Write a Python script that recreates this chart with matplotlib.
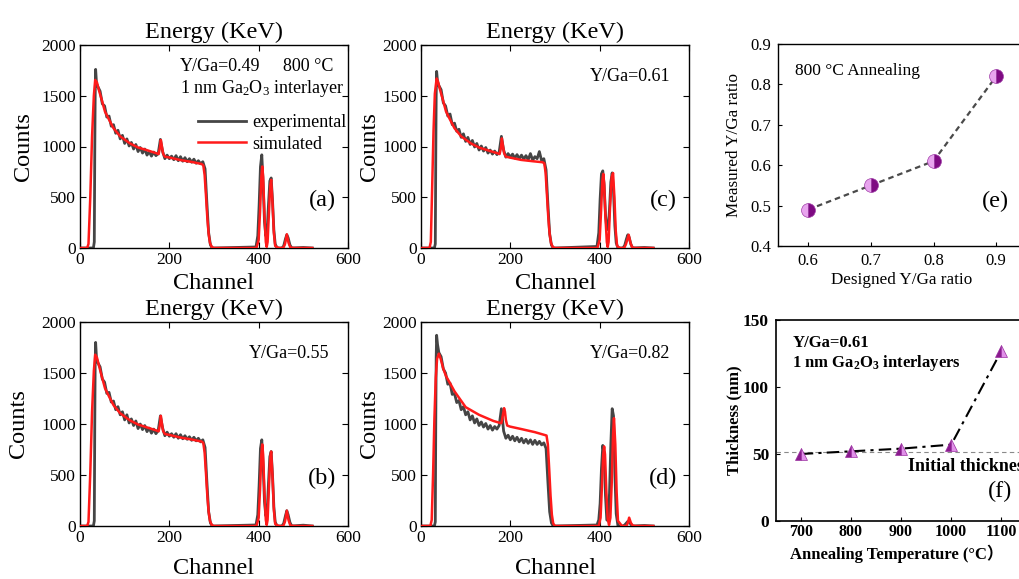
import matplotlib
matplotlib.use("Agg")
import matplotlib.pyplot as plt

plt.rcParams["font.family"] = ["Liberation Serif", "Noto Sans CJK SC"]
plt.rcParams["mathtext.fontset"] = "custom"
plt.rcParams["mathtext.rm"] = "Liberation Serif"
plt.rcParams["mathtext.it"] = "Liberation Serif:italic"
plt.rcParams["mathtext.bf"] = "Liberation Serif:bold"

# ---------------- RBS spectra ----------------
# continuum channels shared by all experimental spectra
CONT_CH = list(range(40, 280, 5))

# experimental edges (rise) and high-energy part (drop + Y/Ga peaks)
EXP_RISE_CH = [0, 30, 32, 33, 34, 35, 37]
EXP_TAIL_CH = [280, 284, 288, 292, 296, 300, 394, 398, 401, 404, 407, 410, 413,
               416, 419, 422, 425, 428, 431, 434, 437, 441, 452, 456, 460, 463,
               466, 470, 474, 500, 520]

# (a) Y/Ga = 0.49
exp_a_rise = [0, 0, 60, 900, 1500, 1760, 1620]
exp_a_cont = [1590, 1545, 1420, 1400, 1290, 1300, 1200, 1215, 1130, 1160, 1075, 1110,
              1030, 1075, 1005, 1040, 975, 1020, 950, 990, 935, 975, 915, 950,
              905, 945, 910, 930, 1070, 950, 880, 915, 880, 905, 870, 910,
              860, 900, 855, 890, 850, 880, 845, 875, 835, 860, 830, 850]
exp_a_tail = [780, 450, 150, 30, 0, 0, 10, 120, 420, 800, 918, 640, 260,
              120, 170, 430, 660, 690, 470, 180, 40, 0, 0, 20, 90, 130,
              100, 30, 0, 5, 0]
sim_a_ch = [0, 16, 19, 23, 27, 31, 34, 38, 42, 48, 56, 65, 75, 90, 112, 130, 149, 170,
            176, 179, 181, 183, 186, 190, 200, 224, 250, 272, 276, 279, 282, 285, 288,
            291, 295, 300, 395, 400, 403, 406, 408, 410, 413, 416, 418, 420, 423, 426,
            428, 431, 434, 437, 445, 455, 459, 463, 467, 471, 480, 520]
sim_a = [0, 0, 40, 500, 1100, 1500, 1656, 1630, 1560, 1470, 1343, 1265, 1180, 1100,
         1030, 990, 965, 935, 925, 990, 1064, 1010, 930, 900, 892, 867, 848, 828, 815,
         720, 520, 300, 140, 50, 10, 0, 0, 80, 350, 700, 803, 700, 320, 60, 10, 60,
         350, 620, 672, 450, 150, 20, 0, 0, 40, 135, 50, 5, 0, 0]

# (b) Y/Ga = 0.55
exp_b_rise = [0, 0, 50, 950, 1600, 1800, 1640]
exp_b_cont = [1600, 1560, 1440, 1410, 1300, 1310, 1215, 1225, 1140, 1170, 1090, 1120,
              1040, 1090, 1010, 1050, 985, 1030, 955, 1000, 945, 985, 925, 960,
              910, 950, 905, 935, 1080, 960, 885, 920, 880, 905, 870, 905,
              860, 895, 855, 885, 850, 875, 840, 870, 835, 860, 825, 845]
exp_b_tail = [770, 440, 140, 30, 0, 0, 10, 110, 400, 760, 845, 600, 240,
              100, 140, 420, 680, 730, 500, 190, 40, 0, 0, 25, 100, 150,
              110, 35, 0, 8, 0]
sim_b_ch = sim_a_ch
sim_b = [0, 0, 40, 520, 1120, 1520, 1680, 1650, 1580, 1480, 1350, 1270, 1185, 1105,
         1035, 995, 968, 938, 928, 995, 1080, 1015, 932, 902, 893, 868, 848, 828, 815,
         720, 520, 300, 140, 50, 10, 0, 0, 80, 350, 700, 800, 700, 320, 60, 10, 60,
         380, 680, 730, 490, 160, 20, 0, 0, 45, 150, 55, 5, 0, 0]

# (c) Y/Ga = 0.61
exp_c_rise = [0, 0, 40, 850, 1500, 1740, 1640]
exp_c_cont = [1600, 1560, 1430, 1400, 1300, 1320, 1215, 1230, 1150, 1170, 1090, 1125,
              1050, 1090, 1020, 1060, 995, 1030, 965, 1005, 955, 990, 935, 965,
              925, 955, 920, 945, 1100, 965, 895, 930, 895, 925, 885, 920,
              880, 915, 875, 910, 870, 930, 865, 900, 880, 950, 860, 880]
exp_c_tail = [770, 440, 140, 30, 0, 0, 15, 150, 480, 730, 760, 620, 330,
              190, 180, 380, 650, 740, 560, 220, 50, 0, 0, 25, 90, 130,
              105, 35, 0, 5, 0]
sim_c_ch = [0, 19, 22, 25, 28, 31, 35, 38, 42, 48, 56, 65, 75, 90, 112, 130, 149, 170,
            176, 179, 181, 183, 186, 190, 200, 224, 250, 272, 276, 279, 282, 285, 288,
            291, 295, 300, 395, 400, 403, 406, 408, 410, 413, 416, 418, 420, 423, 427,
            430, 433, 436, 439, 445, 455, 459, 465, 469, 473, 480, 520]
sim_c = [0, 0, 60, 600, 1150, 1520, 1670, 1640, 1570, 1475, 1345, 1265, 1180, 1100,
         1030, 990, 963, 935, 925, 985, 1080, 1020, 935, 900, 890, 868, 855, 845, 835,
         740, 520, 300, 140, 50, 10, 0, 0, 80, 350, 660, 730, 640, 300, 60, 10, 60,
         380, 700, 738, 500, 170, 20, 0, 0, 40, 130, 50, 5, 0, 0]

# (d) Y/Ga = 0.82
exp_d_rise = [0, 0, 40, 950, 1650, 1870, 1780]
exp_d_cont = [1700, 1660, 1540, 1500, 1390, 1400, 1290, 1300, 1210, 1230, 1140, 1170,
              1090, 1120, 1040, 1080, 1010, 1050, 985, 1020, 970, 1005, 950, 985,
              940, 975, 950, 985, 1150, 930, 860, 890, 845, 880, 835, 870,
              825, 860, 815, 850, 810, 845, 800, 840, 800, 830, 795, 815]
exp_d_tail = [760, 440, 140, 30, 0, 0, 10, 60, 220, 560, 790, 700, 300,
              60, 50, 320, 800, 1150, 1080, 520, 120, 0, 0, 10, 30, 45,
              40, 15, 0, 5, 0]
sim_d_ch = [0, 21, 24, 27, 30, 33, 36, 40, 44, 50, 56, 65, 75, 100, 130, 162, 176,
            180, 183, 186, 188, 190, 193, 199, 225, 255, 281, 284, 287, 290, 293, 296,
            300, 398, 402, 405, 408, 410, 412, 415, 418, 421, 424, 427, 430, 432, 435,
            438, 441, 450, 460, 463, 466, 470, 474, 480, 520]
sim_d = [0, 0, 60, 500, 1050, 1450, 1640, 1690, 1640, 1540, 1470, 1400, 1320, 1165,
         1090, 1030, 1012, 1008, 1080, 1155, 1120, 1040, 985, 975, 950, 920, 887, 800,
         560, 300, 110, 25, 0, 0, 80, 380, 700, 780, 700, 330, 70, 10, 80, 420,
         900, 1057, 800, 330, 50, 0, 0, 30, 82, 30, 5, 0, 0]

spectra = [
    ("a", exp_a_rise, exp_a_cont, exp_a_tail, sim_a_ch, sim_a),
    ("b", exp_b_rise, exp_b_cont, exp_b_tail, sim_b_ch, sim_b),
    ("c", exp_c_rise, exp_c_cont, exp_c_tail, sim_c_ch, sim_c),
    ("d", exp_d_rise, exp_d_cont, exp_d_tail, sim_d_ch, sim_d),
]
ratio_labels = {"a": "Y/Ga=0.49", "b": "Y/Ga=0.55", "c": "Y/Ga=0.61", "d": "Y/Ga=0.82"}

# ---------------- (e) measured vs designed ratio ----------------
designed_ratio = [0.6, 0.7, 0.8, 0.9]
measured_ratio = [0.49, 0.55, 0.61, 0.82]

# ---------------- (f) thickness vs annealing temperature ----------------
anneal_temp = [700, 800, 900, 1000, 1100]
thickness = [50, 52, 54, 57, 127]
initial_thickness = 51.5

W, H = 1019, 579
fig = plt.figure(figsize=(W / 100, H / 100), dpi=100)


def px_axes(x0, y0, x1, y1):
    return fig.add_axes([x0 / W, 1 - y1 / H, (x1 - x0) / W, (y1 - y0) / H])


boxes = {"a": (80, 45, 348, 248), "c": (421, 45, 689, 248),
         "b": (80, 322, 348, 526), "d": (421, 322, 689, 526)}
ylab_x = {"a": -0.172, "b": -0.19, "c": -0.153, "d": -0.153}
xlab_y = {"a": -0.123, "c": -0.123, "b": -0.157, "d": -0.157}

GRAY = "#454545"
RED = "#ff1a1a"
TICK = 12.5
LAB = 17.5
NOTE = 13

for key, rise, cont, tail, sch, sval in spectra:
    ax = px_axes(*boxes[key])
    ech = EXP_RISE_CH + CONT_CH + EXP_TAIL_CH
    eval_ = rise + cont + tail
    ax.plot(ech, eval_, color=GRAY, lw=2.0, label="experimental", zorder=2)
    ax.plot(sch, sval, color=RED, lw=1.8, label="simulated", zorder=3)
    ax.set_xlim(0, 600)
    ax.set_ylim(0, 2000)
    ax.set_xticks([0, 200, 400, 600])
    ax.set_yticks([0, 500, 1000, 1500, 2000])
    ax.tick_params(direction="in", top=True, right=True, length=4, width=0.8,
                   labelsize=TICK, pad=3)
    for s in ax.spines.values():
        s.set_linewidth(1.0)
    ax.set_title("Energy (KeV)", fontsize=LAB, pad=5)
    ax.set_xlabel("Channel", fontsize=LAB)
    ax.set_ylabel("Counts", fontsize=LAB)
    ax.yaxis.set_label_coords(ylab_x[key], 0.5)
    ax.xaxis.set_label_coords(0.5, xlab_y[key])
    ax.text(0.905, 0.235, f"({key})", transform=ax.transAxes, fontsize=LAB,
            ha="center", va="center")
    if key == "a":
        ax.text(0.373, 0.895, ratio_labels[key], transform=ax.transAxes, fontsize=NOTE,
                ha="left", va="center")
        ax.text(0.947, 0.895, "800 \u00b0C", transform=ax.transAxes, fontsize=NOTE,
                ha="right", va="center")
        ax.text(0.373, 0.785, r"1 nm Ga$_2$O$_3$ interlayer", transform=ax.transAxes,
                fontsize=NOTE, ha="left", va="center")
        ax.legend(loc="upper right", bbox_to_anchor=(1.02, 0.695), frameon=False,
                  fontsize=NOTE, handlelength=2.7, handletextpad=0.3,
                  labelspacing=0.25, borderaxespad=0)
    else:
        ax.text(0.63, 0.845, ratio_labels[key], transform=ax.transAxes, fontsize=NOTE,
                ha="left", va="center")

# (e)
axe = px_axes(778, 44, 1026, 246)
axe.plot(designed_ratio, measured_ratio, color="#4a4a4a", lw=1.6, ls=(0, (2.5, 1.8)),
         marker="o", ms=10, fillstyle="left", markerfacecolor="#e8a4ee",
         markerfacecoloralt="#7e0a82", markeredgecolor="#a040a8", mew=0.5, zorder=3)
axe.set_xlim(0.552, 0.9475)
axe.set_ylim(0.4, 0.9)
axe.set_xticks([0.6, 0.7, 0.8, 0.9])
axe.set_yticks([0.4, 0.5, 0.6, 0.7, 0.8, 0.9])
axe.tick_params(direction="in", length=3, labelsize=12, pad=5)
for s in axe.spines.values():
    s.set_linewidth(1.0)
axe.set_xlabel("Designed Y/Ga ratio", fontsize=12.3)
axe.set_ylabel("Measured Y/Ga ratio", fontsize=12.3)
axe.yaxis.set_label_coords(-0.145, 0.5)
axe.xaxis.set_label_coords(0.5, -0.129)
axe.text(0.07, 0.865, "800 \u00b0C Annealing", transform=axe.transAxes, fontsize=12.5,
         ha="left", va="center")
axe.text(0.875, 0.22, "(e)", transform=axe.transAxes, fontsize=LAB, ha="center",
         va="center")

# (f)
axf = px_axes(776, 320, 1026, 521)
axf.axhline(initial_thickness, color="#8a8a8a", lw=0.8, ls=(0, (4, 3)), zorder=1)
axf.plot(anneal_temp, thickness, color="black", lw=1.5, ls=(0, (6, 2.5, 1.5, 2.5)),
         marker="^", ms=9, fillstyle="left", markerfacecolor="#8a1a8e",
         markerfacecoloralt="#e090e8", markeredgecolor="#9a30a0", mew=0.5, zorder=3)
axf.set_xlim(650.7, 1149)
axf.set_ylim(0, 150)
axf.set_xticks(anneal_temp)
axf.set_yticks([0, 50, 100, 150])
axf.tick_params(axis="x", direction="in", length=3, labelsize=11.5, pad=2)
axf.tick_params(axis="y", direction="in", length=3, labelsize=12.5, pad=5)
for lbl in axf.get_xticklabels() + axf.get_yticklabels():
    lbl.set_fontweight("bold")
for s in axf.spines.values():
    s.set_linewidth(1.2)
axf.set_xlabel("Annealing Temperature (\u00b0C\uff09", fontsize=12, fontweight="bold")
axf.set_ylabel("Thickness (nm)", fontsize=12, fontweight="bold")
axf.yaxis.set_label_coords(-0.136, 0.5)
axf.xaxis.set_label_coords(0.484, -0.118)
axf.text(0.065, 0.885, "Y/Ga=0.61", transform=axf.transAxes, fontsize=12,
         fontweight="bold", ha="left", va="center")
axf.text(0.065, 0.785, r"1 nm Ga$_{\mathbf{2}}$O$_{\mathbf{3}}$ interlayers",
         transform=axf.transAxes, fontsize=12, fontweight="bold", ha="left",
         va="center")
axf.text(0.528, 0.27, "Initial thickness", transform=axf.transAxes, fontsize=13,
         fontweight="bold", ha="left", va="center")
axf.text(0.895, 0.145, "(f)", transform=axf.transAxes, fontsize=LAB, ha="center",
         va="center")

fig.savefig("out.png", dpi=100)
